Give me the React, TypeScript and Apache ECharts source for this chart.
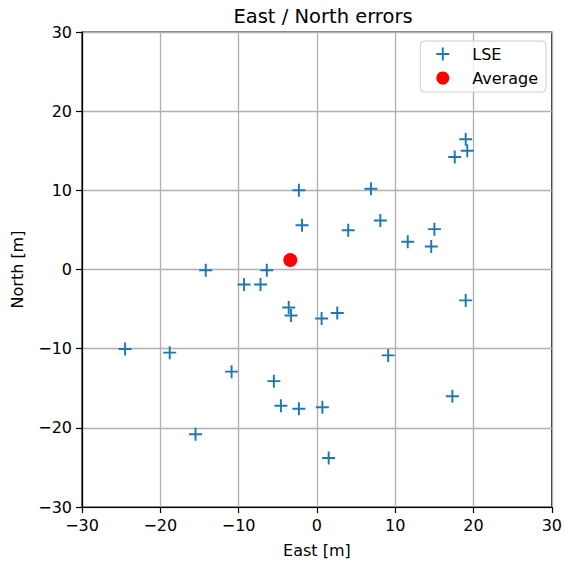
import React, { useEffect, useRef } from "react";
import * as echarts from "echarts";

const lseEast = [
  -14.2, -6.4, -9.3, -7.2, -3.6, -3.3,
  19.0, 19.2, 17.6, 6.9, -2.3, -1.9, 4.0, 8.1, 11.6, 15.0, 14.6, 19.0, 0.6, 2.6,
  -24.5, -18.8, -10.9, -5.5, -4.6, -2.3, 0.7, -15.5, 1.5, 9.1, 17.3,
];
const lseNorth = [
  -0.1, -0.1, -1.9, -1.9, -4.8, -5.8,
  16.45, 15.0, 14.2, 10.2, 10.0, 5.6, 4.95, 6.2, 3.5, 5.1, 2.9, -3.9, -6.2, -5.5,
  -10.05, -10.5, -12.9, -14.1, -17.2, -17.6, -17.4, -20.8, -23.8, -10.85, -16.0,
];
const avgEast = [-3.4];
const avgNorth = [1.2];

const axisMin = -30;
const axisMax = 30;
const axisStep = 10;

const PLUS = "path://M-1,-0.15 L1,-0.15 L1,0.15 L-1,0.15 Z M-0.15,-1 L0.15,-1 L0.15,1 L-0.15,1 Z";
const FONT = "DejaVu Sans";

const fmt = (v: number) => String(v).replace("-", "\u2212");

export default function App() {
  const ref = useRef<HTMLDivElement>(null);
  useEffect(() => {
    if (!ref.current) return;
    const chart = echarts.init(ref.current, null, { renderer: "svg" });
    const axisCommon = {
      min: axisMin,
      max: axisMax,
      interval: axisStep,
      nameLocation: "middle" as const,
      nameTextStyle: { fontFamily: FONT, fontSize: 16, color: "#000" },
      axisLine: { show: true, onZero: false, lineStyle: { color: "#000", width: 1.2 } },
      axisTick: { show: true, inside: false, length: 6, lineStyle: { color: "#000", width: 1.2 } },
      axisLabel: { fontFamily: FONT, fontSize: 16, color: "#000", formatter: fmt, margin: 10 },
      splitLine: { show: true, lineStyle: { color: "#b0b0b0", width: 1.3 } },
    };
    chart.setOption({
      animation: false,
      backgroundColor: "#fff",
      title: {
        text: "East / North errors",
        left: 318,
        textAlign: "center",
        top: 1,
        textStyle: { fontFamily: FONT, fontSize: 19.5, fontWeight: "normal", color: "#000" },
      },
      grid: {
        left: 82,
        top: 32,
        width: 472,
        height: 475,
        show: true,
        borderColor: "#000",
        borderWidth: 1.2,
        backgroundColor: "transparent",
      },
      legend: {
        orient: "vertical",
        right: 19,
        top: 41,
        padding: [5, 8, 6, 16],
        itemGap: 8,
        itemWidth: 13,
        itemHeight: 13,
        borderColor: "#cccccc",
        borderWidth: 1,
        borderRadius: 4,
        backgroundColor: "rgba(255,255,255,0.8)",
        textStyle: { fontFamily: FONT, fontSize: 16, color: "#000", padding: [0, 0, 0, 18] },
        data: [
          { name: "LSE", icon: PLUS },
          { name: "Average", icon: "circle" },
        ],
      },
      xAxis: { ...axisCommon, type: "value", name: "East [m]", nameGap: 35 },
      yAxis: { ...axisCommon, type: "value", name: "North [m]", nameGap: 57 },
      series: [
        {
          name: "LSE",
          type: "scatter",
          symbol: PLUS,
          symbolSize: 13,
          itemStyle: { color: "#1f77b4", opacity: 1 },
          data: lseEast.map((e, i) => [e, lseNorth[i]]),
        },
        {
          name: "Average",
          type: "scatter",
          symbol: "circle",
          symbolSize: 14,
          itemStyle: { color: "#ff0000", opacity: 1 },
          data: avgEast.map((e, i) => [e, avgNorth[i]]),
        },
      ],
    });
    return () => chart.dispose();
  }, []);
  return (
    <div
      ref={ref}
      style={{ position: "fixed", left: 0, top: 0, width: 565, height: 565 }}
    />
  );
}
